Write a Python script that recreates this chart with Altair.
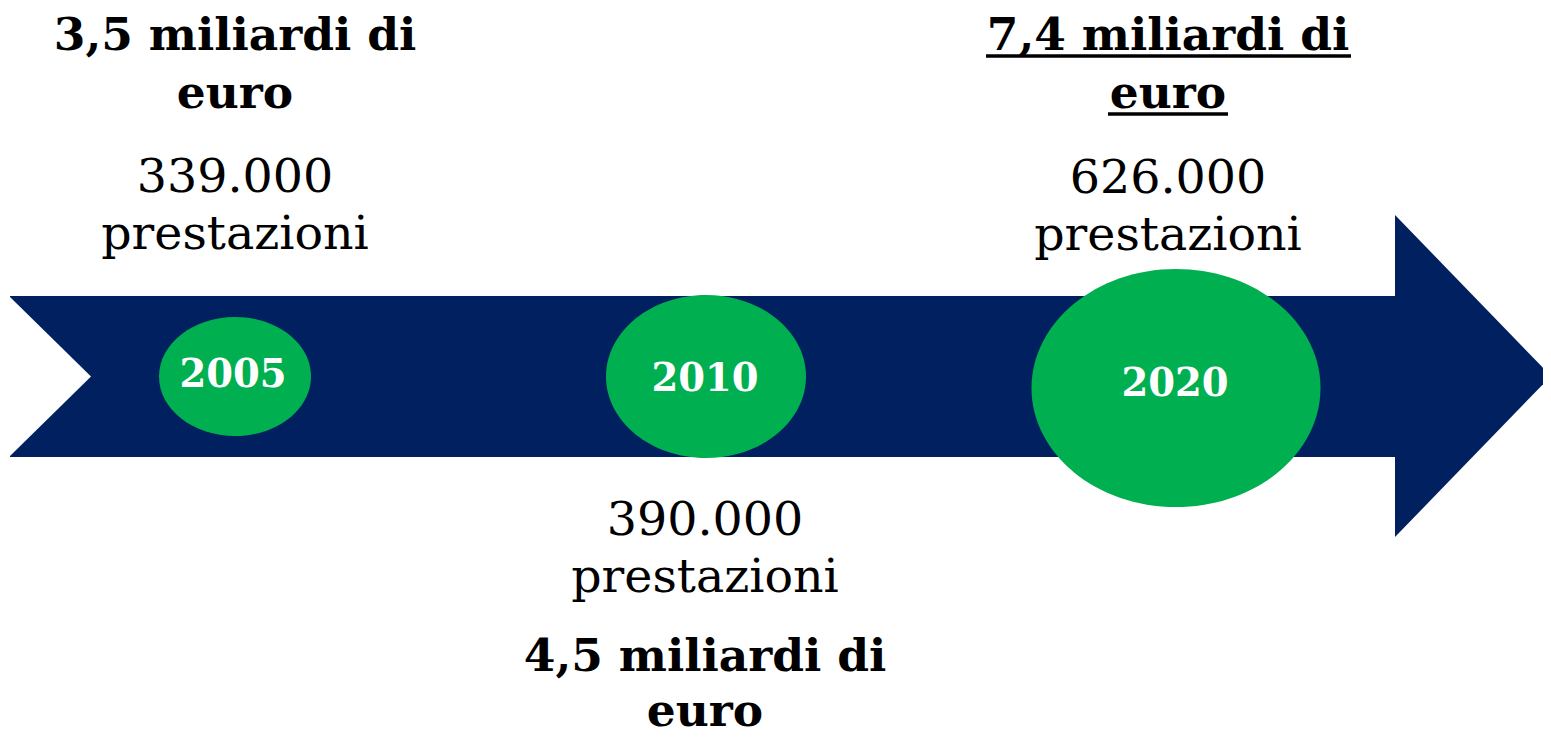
import altair as alt
import pandas as pd

# ---------------- data ----------------
anni = ["2005", "2010", "2020"]
importi_riga1 = ["3,5 miliardi di", "4,5 miliardi di", "7,4 miliardi di"]
importi_riga2 = ["euro", "euro", "euro"]
prestazioni_num = ["339.000", "390.000", "626.000"]
prestazioni_txt = ["prestazioni", "prestazioni", "prestazioni"]

# ---------------- layout (pixel coordinates of the picture) ----------------
W, H = 1535, 730
X0, Y0 = 8, 8
cx = [235, 706, 1176]            # ellipse centres
cy = [376.5, 376.5, 388]
rx = [76, 100, 144.5]
ry = [59.5, 81.5, 119]
year_x = [233, 705, 1175]
year_y = [387, 391, 396]         # baselines of year labels
label_x = [235, 705, 1168]
amount_y1 = [50, 671, 50]
amount_y2 = [108, 726, 108]
num_y = [192, 535, 193]
txt_y = [249, 592, 250]

NAVY = "#002060"
GREEN = "#00B050"
FONT = "DejaVu Serif"

xs = alt.Scale(domain=[X0, X0 + W])
ys = alt.Scale(domain=[Y0, Y0 + H], reverse=True)

def X(f):
    return alt.X(f, type="quantitative", scale=xs, axis=None)

def Y(f):
    return alt.Y(f, type="quantitative", scale=ys, axis=None)

# arrow shaft
shaft = pd.DataFrame({"x": [10], "x2": [1396], "y": [296], "y2": [457]})
shaft_layer = alt.Chart(shaft).mark_rect(color=NAVY).encode(
    x=X("x"), x2="x2", y=Y("y"), y2="y2"
)
# arrow head (triangle drawn as an area)
head = pd.DataFrame({"x": [1395, 1551], "y": [215, 376], "y2": [537, 376]})
head_layer = alt.Chart(head).mark_area(color=NAVY, opacity=1).encode(
    x=X("x"), y=Y("y"), y2="y2"
)
# notch cut into the tail
notch = pd.DataFrame({"x": [9, 91], "y": [296, 376.5], "y2": [457, 376.5]})
notch_layer = alt.Chart(notch).mark_area(color="white", opacity=1).encode(
    x=X("x"), y=Y("y"), y2="y2"
)

# ellipses
ell = pd.DataFrame({
    "anno": anni, "x": cx, "y": cy,
    "size": [(2 * r) ** 2 for r in rx],
    "shape": [f"M-1,0A1,{b / a:.3f},0,1,0,1,0A1,{b / a:.3f},0,1,0,-1,0Z" for a, b in zip(rx, ry)],
})
ell_layer = alt.Chart(ell).mark_point(filled=True, opacity=1, color=GREEN, strokeWidth=0).encode(
    x=X("x"), y=Y("y"),
    size=alt.Size("size:Q", scale=None, legend=None),
    shape=alt.Shape("shape:N", scale=None, legend=None),
)

# year labels
yr = pd.DataFrame({"t": anni, "x": year_x, "y": year_y})
yr_layer = alt.Chart(yr).mark_text(
    font=FONT, fontWeight="bold", fontSize=38.5, color="white", baseline="alphabetic", align="center"
).encode(x=X("x"), y=Y("y"), text="t:N")

# bold amounts
bold = pd.DataFrame({
    "t": importi_riga1 + importi_riga2,
    "x": label_x + label_x,
    "y": amount_y1 + amount_y2,
})
bold_layer = alt.Chart(bold).mark_text(
    font=FONT, fontWeight="bold", fontSize=45.5, color="black", baseline="alphabetic", align="center"
).encode(x=X("x"), y=Y("y"), text="t:N")

# regular counts
reg = pd.DataFrame({
    "t": prestazioni_num + prestazioni_txt,
    "x": label_x + label_x,
    "y": num_y + txt_y,
})
reg_layer = alt.Chart(reg).mark_text(
    font=FONT, fontSize=47.5, color="black", baseline="alphabetic", align="center"
).encode(x=X("x"), y=Y("y"), text="t:N")

# underline of the 2020 amount
ul = pd.DataFrame({"x": [986, 1108], "x2": [1351, 1228], "y": [56, 114]})
ul_layer = alt.Chart(ul).mark_rule(color="black", strokeWidth=3.5).encode(
    x=X("x"), x2="x2", y=Y("y")
)

chart = alt.layer(
    shaft_layer, head_layer, notch_layer, ell_layer, yr_layer, bold_layer, reg_layer, ul_layer
).properties(
    width=W, height=H, autosize=alt.AutoSizeParams(type="none"), padding=0
).configure(background="white").configure_view(stroke=None)

chart.save("out.html", embed_options={"renderer": "svg", "actions": False})
